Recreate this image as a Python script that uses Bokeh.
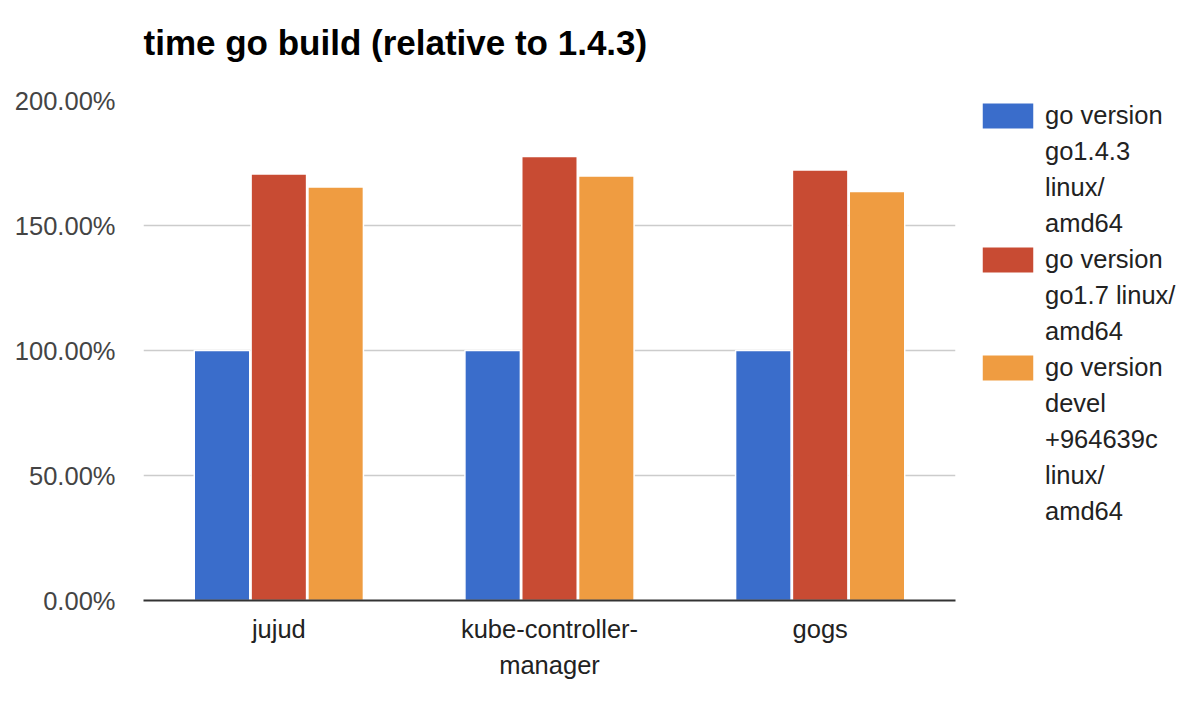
from bokeh.plotting import figure
from bokeh.models import (ColumnDataSource, FactorRange, Legend, LegendItem,
                          PrintfTickFormatter, FixedTicker, CategoricalAxis,
                          CustomJSTickFormatter, Title)
from bokeh.transform import dodge
from bokeh.embed import file_html
from bokeh.resources import INLINE

categories = ["jujud", "kube-controller-manager", "gogs"]
label_line1 = ["jujud", "kube-controller-", "gogs"]
label_line2 = ["", "manager", ""]
series_lines = [
    ["go version", "go1.4.3", "linux/", "amd64"],
    ["go version", "go1.7 linux/", "amd64"],
    ["go version", "devel", "+964639c", "linux/", "amd64"],
]
go143 = [100.0, 100.0, 100.0]
go17 = [170.6, 177.6, 172.2]
devel = [165.4, 169.8, 163.6]
y_ticks = [0, 50, 100, 150, 200]
colors = ["#3a6dcb", "#c84b33", "#ef9c41"]

source = ColumnDataSource(dict(cat=categories, a=go143, b=go17, c=devel))

FONT = "Liberation Sans"
FS = "25.5px"

p = figure(
    x_range=FactorRange(*categories), y_range=(0, 200),
    frame_width=812, frame_height=500, output_backend="svg", toolbar_location=None,
    min_border_left=143, min_border_right=0, min_border_top=100, min_border_bottom=0,
    title="time go build (relative to 1.4.3)",
)
p.title.text_font = FONT
p.title.text_font_size = "35px"
p.title.text_font_style = "bold"
p.title.text_color = "#000000"
p.title.offset = 0
p.title.standoff = 10

# thin empty spacer between the frame and the title
p.add_layout(Title(text=" ", text_font_size="1px", standoff=31), "above")

bw = 0.205
r1 = p.vbar(x=dodge("cat", -0.21, range=p.x_range), top="a", width=bw, source=source,
            fill_color=colors[0], line_color="white", line_width=1.5)
r2 = p.vbar(x=dodge("cat", 0.0, range=p.x_range), top="b", width=bw, source=source,
            fill_color=colors[1], line_color="white", line_width=1.5)
r3 = p.vbar(x=dodge("cat", 0.21, range=p.x_range), top="c", width=bw, source=source,
            fill_color=colors[2], line_color="white", line_width=1.5)
blank = p.vbar(x=[], top=[], width=bw, fill_alpha=0, line_alpha=0)

p.outline_line_color = None
p.background_fill_color = "white"
p.xgrid.grid_line_color = None
p.ygrid.grid_line_color = "#cccccc"
p.ygrid.grid_line_width = 1.5

p.yaxis.ticker = FixedTicker(ticks=y_ticks)
p.yaxis.formatter = PrintfTickFormatter(format="%.2f%%")
p.yaxis.axis_line_color = None
p.yaxis.major_tick_line_color = None
p.yaxis.minor_tick_line_color = None
p.yaxis.major_tick_out = 0
p.yaxis.major_tick_in = 0
p.yaxis.major_label_text_font = FONT
p.yaxis.major_label_text_font_size = FS
p.yaxis.major_label_text_color = "#444444"
p.yaxis.major_label_standoff = 28

JS = """
const v = (m instanceof Map) ? m.get(tick) : m[tick];
return (v === undefined) ? tick : v;
"""

xa = p.xaxis[0]
xa.axis_line_color = "#333333"
xa.axis_line_width = 2
xa.major_tick_line_color = None
xa.minor_tick_line_color = None
xa.major_tick_out = 0
xa.major_tick_in = 0
xa.major_label_text_font = FONT
xa.major_label_text_font_size = FS
xa.major_label_text_color = "#222222"
xa.major_label_standoff = 14
xa.formatter = CustomJSTickFormatter(args=dict(m=dict(zip(categories, label_line1))), code=JS)

xa2 = CategoricalAxis(
    axis_line_color=None, major_tick_line_color=None, minor_tick_line_color=None,
    major_tick_out=0, major_tick_in=0,
    major_label_text_font=FONT, major_label_text_font_size=FS,
    major_label_text_color="#222222", major_label_standoff=5,
    formatter=CustomJSTickFormatter(args=dict(m=dict(zip(categories, label_line2))), code=JS),
)
p.add_layout(xa2, "below")

items = []
for rend, lines in zip([r1, r2, r3], series_lines):
    items.append(LegendItem(label=lines[0], renderers=[rend]))
    for line in lines[1:]:
        items.append(LegendItem(label=line, renderers=[blank]))

legend = Legend(
    items=items,
    location=(20, 71),
    label_text_font=FONT, label_text_font_size=FS, label_text_color="#222222",
    glyph_width=65, glyph_height=33, label_standoff=5, spacing=0, label_height=36,
    padding=0, margin=0, border_line_color=None, background_fill_alpha=0,
)
p.add_layout(legend, "right")

open("out.html", "w").write(file_html(p, INLINE))
